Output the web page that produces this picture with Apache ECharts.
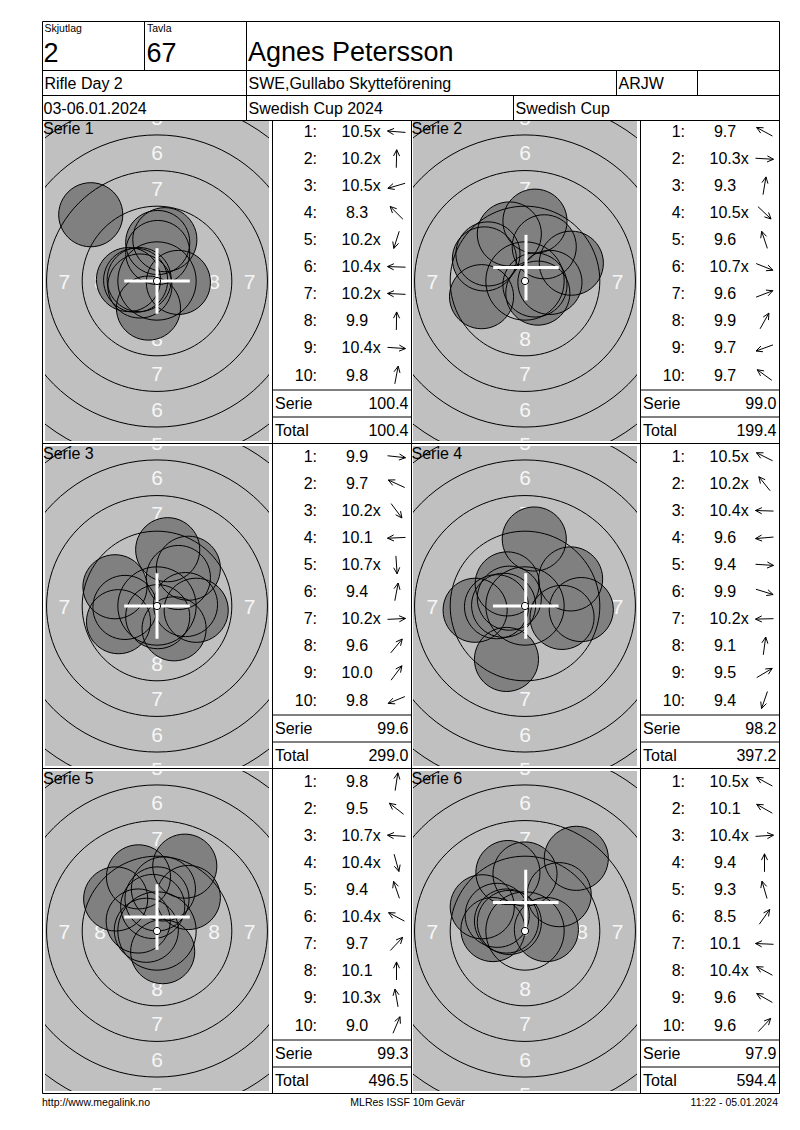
<!DOCTYPE html>
<html><head><meta charset="utf-8">
<script src="https://cdn.jsdelivr.net/npm/echarts@6/dist/echarts.min.js"></script>
<style>html,body{margin:0;padding:0;background:#fff}#c{width:800px;height:1130px}</style>
</head><body><div id="c"></div>
<script>
// ---------- header / footer texts ----------
const headerLabels = ['Skjutlag', 'Tavla'];
const relayNo = '2';
const targetNo = '67';
const shooterName = 'Agnes Petersson';
const eventName = 'Rifle Day 2';
const clubName = 'SWE,Gullabo Skytteförening';
const shooterClass = 'ARJW';
const eventDates = '03-06.01.2024';
const competitionName = 'Swedish Cup 2024';
const cupName = 'Swedish Cup';
const footerTexts = ['http://www.megalink.no', 'MLRes ISSF 10m Gevär', '11:22 - 05.01.2024'];

// ---------- series data ----------
const serieNames = ['Serie 1', 'Serie 2', 'Serie 3', 'Serie 4', 'Serie 5', 'Serie 6'];
const scores1 = [10.5, 10.2, 10.5, 8.3, 10.2, 10.4, 10.2, 9.9, 10.4, 9.8];
const scores2 = [9.7, 10.3, 9.3, 10.5, 9.6, 10.7, 9.6, 9.9, 9.7, 9.7];
const scores3 = [9.9, 9.7, 10.2, 10.1, 10.7, 9.4, 10.2, 9.6, 10.0, 9.8];
const scores4 = [10.5, 10.2, 10.4, 9.6, 9.4, 9.9, 10.2, 9.1, 9.5, 9.4];
const scores5 = [9.8, 9.5, 10.7, 10.4, 9.4, 10.4, 9.7, 10.1, 10.3, 9.0];
const scores6 = [10.5, 10.1, 10.4, 9.4, 9.3, 8.5, 10.1, 10.4, 9.6, 9.6];
const serieTotals = [100.4, 99.0, 99.6, 98.2, 99.3, 97.9];
const runningTotals = [100.4, 199.4, 299.0, 397.2, 496.5, 594.4];

// shot impact points in mm from target centre (x right, y up)
const shots1 = [[-1.25, 0.1], [0.05, 2.0], [-1.2, -0.35], [-4.65, 4.65], [-0.6, -1.9], [-1.5, 0.05], [-2.0, 0.1], [0.05, 2.7], [1.5, -0.1], [0.55, 2.9]];
const shots2 = [[-2.85, 1.55], [1.75, -0.1], [0.7, 4.2], [0.9, -0.85], [-1.1, 3.3], [0.7, -0.28], [3.25, 1.25], [1.35, 2.4], [-3.05, -1.1], [-2.6, 1.9]];
const shots3 = [[2.75, -0.3], [-2.95, 1.35], [1.2, -1.6], [-2.25, -0.1], [0.05, -0.75], [0.75, 3.95], [2.0, 0.1], [2.2, 2.65], [1.5, 2.0], [-2.7, -1.1]];
const shots4 = [[-1.1, 0.55], [-1.25, 1.55], [-1.5, 0.05], [-3.5, -0.3], [3.95, -0.25], [2.6, -0.8], [-2.0, -0.05], [0.65, 4.7], [3.2, 1.9], [-1.3, -3.75]];
const shots5 = [[0.45, 2.95], [-2.9, 2.25], [-0.75, 0.05], [0.4, -1.45], [-1.3, 3.8], [-1.32, 0.7], [2.2, 2.35], [0.0, 2.25], [-0.3, 1.72], [1.95, 4.55]];
const shots6 = [[-1.1, 0.6], [-1.95, 1.1], [1.5, 0.1], [0.0, 4.0], [-1.2, 4.1], [3.6, 5.1], [-2.25, 0.1], [-1.3, 0.7], [-3.0, 1.7], [2.4, 2.55]];
// group centre marks (mm)
const crossX = [0, 0.07, 0, 0.05, 0, 0.05];
const crossY = [0, 0.94, 0, 0, 0.98, 2.0];

// ---------- target geometry (ISSF 10m air rifle, mm) ----------
const ringRadii = [2.75, 5.25, 7.75, 10.25, 12.75, 15.25]; // rings 9..4
const ringLabelNums = ['8', '7', '6', '5'];
const tenRingRadius = 0.25;
const pelletRadius = 2.25;

// ---------- build ----------
const allScores = [scores1, scores2, scores3, scores4, scores5, scores6];
const allShots = [shots1, shots2, shots3, shots4, shots5, shots6];
const FONT = '"Liberation Sans", Arial, Helvetica, sans-serif';
const PX_PER_MM = 14.25, GW = 224, GH = 320;
const XR = GW / 2 / PX_PER_MM, YR = GH / 2 / PX_PER_MM;

const labelData = [];
ringLabelNums.forEach((n, j) => {
  const r = (ringRadii[j] + ringRadii[j + 1]) / 2;
  [[0, r], [0, -r], [r, 0], [-r, 0]].forEach(p => {
    if (Math.abs(p[0]) <= XR && Math.abs(p[1]) <= YR + 0.5) labelData.push([p[0], p[1], n]);
  });
});

function txt(x, y, s, size, align, extra) {
  return Object.assign({
    type: 'text', x: x, y: y, z: 20, silent: true,
    style: { text: s, fill: '#000', fontSize: size, fontFamily: FONT,
      align: align, verticalAlign: 'middle', textAlign: align, textVerticalAlign: 'middle' }
  }, extra || {});
}
function ln(x1, y1, x2, y2) {
  return { type: 'line', z: 20, silent: true, shape: { x1, y1, x2, y2 }, style: { stroke: '#000', lineWidth: 1 } };
}

const grids = [], xAxes = [], yAxes = [], series = [], graphics = [];
const rowBottoms = [443.5, 768.5, 1093.5];

for (let i = 0; i < 6; i++) {
  const col = i % 2, row = Math.floor(i / 2);
  const B = rowBottoms[row];
  const TL = col ? 640.5 : 272.5;
  const GX = col ? 413 : 45;
  grids.push({ left: GX, top: B - 322.5, width: GW, height: GH, show: true, backgroundColor: '#c0c0c0', borderWidth: 0 });
  xAxes.push({ gridIndex: i, type: 'value', min: -XR, max: XR, show: false });
  yAxes.push({ gridIndex: i, type: 'value', min: -YR, max: YR, show: false });
  const base = { type: 'custom', coordinateSystem: 'cartesian2d', xAxisIndex: i, yAxisIndex: i, clip: true, silent: true, animation: false };

  series.push(Object.assign({}, base, { z: 1, data: labelData, renderItem: function (p, api) {
    const c = api.coord([api.value(0), api.value(1)]);
    return { type: 'text', x: c[0], y: c[1], style: { text: String(labelData[p.dataIndex][2]), fill: '#f6f6f6', fontSize: 21, fontFamily: FONT,
      align: 'center', verticalAlign: 'middle', textAlign: 'center', textVerticalAlign: 'middle' } };
  } }));
  series.push(Object.assign({}, base, { z: 2, data: allShots[i], renderItem: function (p, api) {
    const c = api.coord([api.value(0), api.value(1)]);
    const r = api.size([pelletRadius, 0])[0];
    return { type: 'circle', shape: { cx: c[0], cy: c[1], r: r }, style: { fill: '#808080', stroke: 'none' } };
  } }));
  series.push(Object.assign({}, base, { z: 3, data: ringRadii.map(r => [0, 0, r]), renderItem: function (p, api) {
    const c = api.coord([0, 0]);
    const r = api.size([api.value(2), 0])[0];
    return { type: 'circle', shape: { cx: c[0], cy: c[1], r: r }, style: { fill: 'none', stroke: '#000', lineWidth: 1 } };
  } }));
  series.push(Object.assign({}, base, { z: 4, data: allShots[i], renderItem: function (p, api) {
    const c = api.coord([api.value(0), api.value(1)]);
    const r = api.size([pelletRadius, 0])[0];
    return { type: 'circle', shape: { cx: c[0], cy: c[1], r: r }, style: { fill: 'none', stroke: '#000', lineWidth: 1 } };
  } }));
  series.push(Object.assign({}, base, { z: 5, data: [[crossX[i], crossY[i]]], renderItem: function (p, api) {
    const x = api.value(0), y = api.value(1), h = 2.3;
    const a = api.coord([x - h, y]), b = api.coord([x + h, y]);
    const c = api.coord([x, y + h]), d = api.coord([x, y - h]);
    return { type: 'group', children: [
      { type: 'line', shape: { x1: a[0], y1: a[1], x2: b[0], y2: b[1] }, style: { stroke: '#fff', lineWidth: 3 } },
      { type: 'line', shape: { x1: c[0], y1: c[1], x2: d[0], y2: d[1] }, style: { stroke: '#fff', lineWidth: 3 } }
    ] };
  } }));
  series.push(Object.assign({}, base, { z: 6, data: [[0, 0]], renderItem: function (p, api) {
    const c = api.coord([0, 0]);
    const r = api.size([tenRingRadius, 0])[0];
    return { type: 'circle', shape: { cx: c[0], cy: c[1], r: r }, style: { fill: '#fff', stroke: '#000', lineWidth: 1 } };
  } }));

  // series label on target
  graphics.push(txt(col ? 411.5 : 43, B - 315, serieNames[i], 16, 'left'));

  // shot table
  const sc = allScores[i], sh = allShots[i];
  for (let k = 0; k < 10; k++) {
    const y = B - 68.5 - (9 - k) * 27.03;
    graphics.push(txt(TL + 44.5, y, (k + 1) + ':', 16, 'right'));
    const s = sc[k];
    const label = s.toFixed(1) + (s >= 10.2 ? 'x' : '');
    graphics.push(txt(TL + 69 + (s < 10 ? 4.4 : 0), y, label, 16, 'left'));
    // direction arrow from the shot position
    const ang = Math.atan2(sh[k][1], sh[k][0]);
    const dx = Math.cos(ang), dy = -Math.sin(ang);
    const cx = TL + 124, L = 9, hl = 7, ha = 0.45;
    const tip = [cx + dx * L, y + dy * L], tail = [cx - dx * L, y - dy * L];
    const h1 = [tip[0] - hl * Math.cos(ang + ha), tip[1] + hl * Math.sin(ang + ha)];
    const h2 = [tip[0] - hl * Math.cos(ang - ha), tip[1] + hl * Math.sin(ang - ha)];
    graphics.push({ type: 'polyline', z: 20, silent: true, shape: { points: [tail, tip] }, style: { stroke: '#000', lineWidth: 1, fill: 'none' } });
    graphics.push({ type: 'polyline', z: 20, silent: true, shape: { points: [h1, tip, h2] }, style: { stroke: '#000', lineWidth: 1, fill: 'none' } });
  }
  graphics.push(ln(TL, B - 53.5, TL + 139, B - 53.5));
  graphics.push(ln(TL, B - 26.5, TL + 139, B - 26.5));
  graphics.push(txt(TL + 2.5, B - 40, 'Serie', 16, 'left'));
  graphics.push(txt(TL + 136, B - 40, serieTotals[i].toFixed(1), 16, 'right'));
  graphics.push(txt(TL + 2.5, B - 13.5, 'Total', 16, 'left'));
  graphics.push(txt(TL + 136, B - 13.5, runningTotals[i].toFixed(1), 16, 'right'));
}

// frame lines
[21.5, 70.5, 95.5, 120.5, 443.5, 768.5, 1093.5].forEach(y => graphics.push(ln(42.5, y, 779.5, y)));
graphics.push(ln(42.5, 21.5, 42.5, 1093.5));
graphics.push(ln(779.5, 21.5, 779.5, 1093.5));
graphics.push(ln(144.5, 21.5, 144.5, 70.5));
graphics.push(ln(246.5, 21.5, 246.5, 120.5));
graphics.push(ln(616.5, 70.5, 616.5, 95.5));
graphics.push(ln(697.5, 70.5, 697.5, 95.5));
graphics.push(ln(513.5, 95.5, 513.5, 120.5));
[272.5, 411.5, 640.5].forEach(x => graphics.push(ln(x, 120.5, x, 1093.5)));

// header texts
graphics.push(txt(44.5, 27.5, headerLabels[0], 10.5, 'left'));
graphics.push(txt(147, 27.5, headerLabels[1], 10.5, 'left'));
graphics.push(txt(43.5, 52.5, relayNo, 27, 'left'));
graphics.push(txt(146.5, 52.5, targetNo, 27, 'left'));
graphics.push(txt(248, 52, shooterName, 27, 'left'));
graphics.push(txt(44.5, 83.5, eventName, 16, 'left'));
graphics.push(txt(248.5, 83.5, clubName, 16, 'left'));
graphics.push(txt(618.5, 83.5, shooterClass, 16, 'left'));
graphics.push(txt(43.5, 108.5, eventDates, 16, 'left'));
graphics.push(txt(248.5, 108.5, competitionName, 16, 'left'));
graphics.push(txt(515.5, 108.5, cupName, 16, 'left'));
// footer
graphics.push(txt(42, 1101.5, footerTexts[0], 10.5, 'left'));
graphics.push(txt(407.5, 1101.5, footerTexts[1], 10.5, 'center'));
graphics.push(txt(778, 1101.5, footerTexts[2], 10.5, 'right'));

const chart = echarts.init(document.getElementById('c'), null, { renderer: 'svg', width: 800, height: 1130 });
chart.setOption({
  animation: false,
  backgroundColor: '#fff',
  grid: grids, xAxis: xAxes, yAxis: yAxes, series: series,
  graphic: { elements: graphics }
});
</script></body></html>
